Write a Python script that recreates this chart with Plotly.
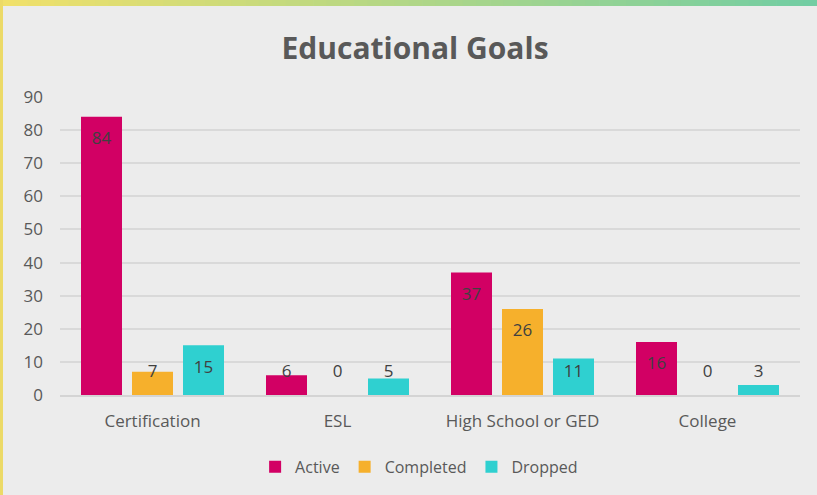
import plotly.graph_objects as go

categories = ["Certification", "ESL", "High School or GED", "College"]
series_names = ["Active", "Completed", "Dropped"]
active = [84, 6, 37, 16]
completed = [7, 0, 26, 0]
dropped = [15, 5, 11, 3]
y_ticks = [0, 10, 20, 30, 40, 50, 60, 70, 80, 90]

series_values = [active, completed, dropped]
colors = ["#d20064", "#f6b02c", "#2fd0d0"]

FONT = "'Open Sans', sans-serif"
TXT = "#595959"
BARGAP = 0.173
GROUPGAP = 0.196

fig = go.Figure()
for name, vals, c in zip(series_names, series_values, colors):
    fig.add_trace(go.Bar(
        name=name, x=categories, y=vals, offsetgroup=name,
        marker=dict(color=c, line=dict(width=0)),
        hoverinfo="x+y+name",
    ))

# data labels: inside end, kept off the baseline for short bars
LABEL_DROP = 7.0
LABEL_MIN = 6.7
for name, vals in zip(series_names, series_values):
    fig.add_trace(go.Scatter(
        x=categories, y=[max(v - LABEL_DROP, LABEL_MIN) for v in vals],
        text=[str(v) for v in vals], mode="text", offsetgroup=name,
        textfont=dict(family=FONT, size=17, color="#404040"),
        showlegend=False, hoverinfo="skip",
    ))

# frame: yellow-to-green top band and yellow left edge
shapes = []
N = 60
c0 = (240, 224, 106)
c1 = (114, 205, 163)
W = 817 - 60 - 17
H = 495 - 97 - 100
for i in range(N):
    t = i / (N - 1)
    col = tuple(round(c0[k] + (c1[k] - c0[k]) * t) for k in range(3))
    shapes.append(dict(type="rect", xref="paper", yref="paper",
                       x0=-60/W + i * (817/W) / N, x1=-60/W + (i + 1.05) * (817/W) / N,
                       y0=1 + 91/H, y1=1 + 97/H,
                       fillcolor="rgb(%d,%d,%d)" % col, line=dict(width=0), layer="above"))
shapes.append(dict(type="rect", xref="paper", yref="paper",
                   x0=-60/W, x1=-57/W, y0=-100/H, y1=1 + 97/H,
                   fillcolor="rgb(236,218,104)", line=dict(width=0)))

fig.update_layout(
    width=817, height=495,
    paper_bgcolor="#ececec", plot_bgcolor="#ececec",
    margin=dict(l=60, r=17, t=97, b=100),
    barmode="group", bargap=BARGAP, bargroupgap=GROUPGAP,
    scattermode="group", scattergap=BARGAP,
    title=dict(text="<b>Educational Goals</b>", x=0.508, xref="container",
               xanchor="center", y=0.903, yref="container", yanchor="middle",
               font=dict(family=FONT, size=30, color=TXT)),
    font=dict(family=FONT, size=17, color=TXT),
    legend=dict(orientation="h", x=0.513, xanchor="center", xref="container",
                y=0.057, yref="container", yanchor="middle",
                font=dict(family=FONT, size=16, color=TXT),
                itemwidth=30, traceorder="normal"),
    shapes=shapes,
    showlegend=True,
)
fig.update_xaxes(showgrid=False, showline=True, linecolor="#d4d4d4", linewidth=1.5,
                 ticks="", tickfont=dict(family=FONT, size=17, color=TXT),
                 ticklabelstandoff=10)
fig.update_yaxes(range=[0, 90], tickvals=y_ticks, showgrid=True, gridcolor="#d9d9d9",
                 gridwidth=1.5, zeroline=False, showline=False, ticks="",
                 tickfont=dict(family=FONT, size=17, color=TXT),
                 ticklabelstandoff=16)

fig.write_html("out.html", config={"displayModeBar": False},
               post_script="document.body.style.margin='0';document.body.style.overflow='hidden';")
